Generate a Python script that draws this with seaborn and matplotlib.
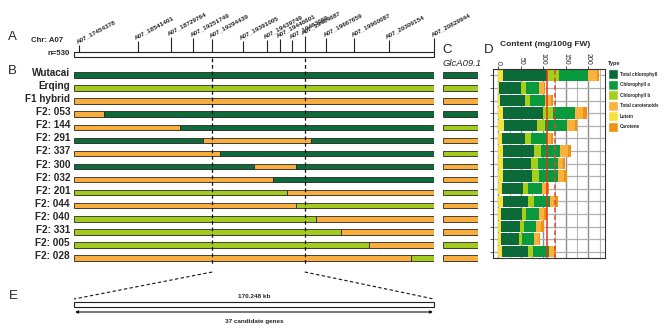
import matplotlib
matplotlib.use("Agg")
import matplotlib.pyplot as plt
import matplotlib.patheffects as pe
from matplotlib.patches import Rectangle
from matplotlib.transforms import blended_transform_factory
import numpy as np
import pandas as pd
import seaborn as sns

sns.set_theme(style="white")
plt.rcParams['font.family'] = ['Liberation Sans', 'DejaVu Sans']

# ---------------- data ----------------
markers = ["A07_17454378", "A07_18541401", "A07_18729764", "A07_19251749",
           "A07_19294439", "A07_19391005", "A07_19439749", "A07_19446601",
           "A07_19463069", "A07_19464687", "A07_19667659", "A07_19900087",
           "A07_20309154", "A07_20829944"]
# relative position of each marker along the drawn chromosome (0..1)
marker_pos = [0.014, 0.177, 0.269, 0.331, 0.384, 0.469, 0.536, 0.572,
              0.606, 0.641, 0.700, 0.778, 0.874, 1.0]
interval_idx = (4, 9)
n_candidate = 37

lines = ["Wutacai", "Erqing", "F1 hybrid", "F2: 053", "F2: 144", "F2: 291",
         "F2: 337", "F2: 300", "F2: 032", "F2: 201", "F2: 044", "F2: 040",
         "F2: 331", "F2: 005", "F2: 028"]
# genotype blocks along chromosome: W = Wutacai, E = Erqing, H = heterozygous
seg_genos = ["W", "E", "H", "HW", "HW", "WHW", "HW", "WHW", "HW",
             "EH", "HE", "EH", "EH", "EH", "HE"]
seg_breaks = [[], [], [], [0.083], [0.294], [0.358, 0.658], [0.406],
              [0.500, 0.617], [0.553], [0.592], [0.617], [0.672], [0.742],
              [0.819], [0.936]]
glca_geno = ["W", "E", "H", "W", "E", "H", "E", "H", "H", "E", "H", "H",
             "H", "E", "H"]

# Panel D content (mg/100g FW), one value per line
lutein = [9.4, 1.5, 3.5, 9.4, 12.5, 7, 9.4, 9.4, 9.4, 7, 9.4, 5, 5, 5, 7]
total_chl = [98, 49, 55.7, 89, 74, 52, 70, 63, 66, 47, 55.7, 47, 43, 41, 58.6]
chl_b = [27.4, 11, 11, 22, 17, 13, 15.6, 15, 15, 11, 14, 9.6, 9, 6.7, 10.4]
chl_a = [64, 29, 33.4, 50, 50, 35, 42, 44, 41.5, 32, 35.6, 29, 27, 27, 36.3]
total_car = [21.4, 10, 13.4, 17, 17, 10, 18.6, 13, 15, 10.4, 11, 11, 11, 11, 12]
carotene = [4.5, 3.8, 3.7, 9, 5, 4, 6, 4.5, 6, 4.5, 6, 6, 6.5, 2.2, 3.7]
ref_solid = 107
ref_dashed = 125
d_ticks = [0, 50, 100, 150, 200]

type_names = ["Total chlorophyll", "Chlorophyll a", "Chlorophyll b",
              "Total carotenoids", "Lutein", "Carotene"]

# ---------------- styles ----------------
geno_colors = {"W": "#0d6b3a", "E": "#a2cb1d", "H": "#f9ad3d"}
type_colors = {"Total chlorophyll": "#0b6a38", "Chlorophyll a": "#0a9a3e",
               "Chlorophyll b": "#a8cf18", "Total carotenoids": "#fbb13c",
               "Lutein": "#f4e23a", "Carotene": "#f29111"}
tick_len = [7, 11, 15, 14, 13, 10.5, 12, 13, 12, 15.5, 14, 14, 12, 14]

W, H = 667, 336
fig = plt.figure(figsize=(W / 100, H / 100), dpi=100)


def px_axes(x0, y0, x1, y1):
    return fig.add_axes([x0 / W, 1 - y1 / H, (x1 - x0) / W, (y1 - y0) / H])


shadow = [pe.SimplePatchShadow(offset=(0.7, -0.7), shadow_rgbFace="#8a8a8a", alpha=0.7),
          pe.Normal()]

# ---------------- panel A ----------------
axA = px_axes(74, 0, 434, 60)
axA.set_xlim(0, 1)
axA.set_ylim(60, 0)
axA.axis("off")
axA.add_patch(Rectangle((0, 51.5), 1, 5.8, facecolor="white", edgecolor="#222",
                        lw=0.8, clip_on=False))
tops = [51.5 - t for t in tick_len]
axA.vlines(marker_pos, tops, 51.5, color="#222", lw=0.8, clip_on=False)
for p, t, name in zip(marker_pos, tops, markers):
    axA.text(p - 0.004, t - 0.5, name, rotation=28, rotation_mode="anchor",
             ha="left", va="bottom", fontsize=4.6, fontweight="bold",
             clip_on=False)

# ---------------- panel B ----------------
axB = px_axes(74, 68.5, 434, 264.5)
axB.set_xlim(0, 1)
axB.set_ylim(len(lines) - 0.5, -0.5)
axB.axis("off")
for i, (name, genos, brks) in enumerate(zip(lines, seg_genos, seg_breaks)):
    starts = [0] + brks
    ends = brks + [1]
    for s, e, g in zip(starts, ends, genos):
        b = axB.barh(i, e - s, left=s, height=0.42, color=geno_colors[g],
                     edgecolor="#2a2a2a", lw=0.6)
        for r in b:
            r.set_path_effects(shadow)
    axB.text(-0.011, i - 0.15, name, ha="right", va="center", fontsize=7.2,
             fontweight="bold", clip_on=False)

# ---------------- panel C ----------------
axC = px_axes(443, 68.5, 478, 264.5)
dfC = pd.DataFrame({"line": lines, "geno": glca_geno, "v": [1] * len(lines)})
sns.barplot(data=dfC, x="v", y="line", hue="geno", palette=geno_colors,
            orient="h", width=0.42, dodge=False, saturation=1, errorbar=None,
            edgecolor="#2a2a2a", linewidth=0.6, legend=False, ax=axC)
for r in axC.patches:
    r.set_path_effects(shadow)
axC.set_xlim(0, 1)
axC.set_ylim(len(lines) - 0.5, -0.5)
axC.axis("off")

# ---------------- panel D ----------------
axD = px_axes(493, 69, 605, 258)
stack = [("Lutein", lutein), ("Total chlorophyll", total_chl),
         ("Chlorophyll b", chl_b), ("Chlorophyll a", chl_a),
         ("Total carotenoids", total_car), ("Carotene", carotene)]
left = np.zeros(len(lines))
ypos = np.arange(len(lines))
for tname, vals in stack:
    v = np.array(vals, dtype=float)
    axD.barh(ypos, v, left=left, height=0.9, color=type_colors[tname],
             edgecolor="none", zorder=2)
    left += v
axD.axvline(ref_solid, color="#e5321e", lw=1.1, zorder=3)
axD.axvline(ref_dashed, color="#d8493b", lw=1.1, ls=(0, (3, 2)), zorder=3)
axD.set_xlim(-12, 237)
axD.set_ylim(len(lines) - 0.5, -0.5)
axD.set_xticks(d_ticks)
axD.set_xticks([t + 25 for t in d_ticks], minor=True)
axD.set_yticks(ypos)
axD.set_yticklabels([])
axD.grid(True, which="major", axis="x", color="#8e8e8e", lw=1.0, zorder=0)
axD.grid(True, which="minor", axis="x", color="#b8b8b8", lw=0.8, zorder=0)
axD.grid(True, which="major", axis="y", color="#b0b0b0", lw=0.9, zorder=0)
axD.set_axisbelow(True)
axD.xaxis.tick_top()
axD.set_xticklabels([str(t) for t in d_ticks], rotation=-90, fontsize=5,
                    va="bottom", ha="center")
axD.tick_params(axis="x", which="major", length=2, width=0.6, pad=1,
                top=True, bottom=False, colors="#222")
axD.tick_params(axis="x", which="minor", length=0)
axD.tick_params(axis="y", length=2, width=0.6, left=True, colors="#444")
for s in axD.spines.values():
    s.set_color("#333")
    s.set_linewidth(0.8)
axD.set_facecolor("white")

# legend of panel D
axL = px_axes(608, 69, 618, 132)
for i, tname in enumerate(type_names):
    axL.barh(i, 1, height=0.94, color=type_colors[tname])
    axL.text(1.2, i, tname, ha="left", va="center", fontsize=3.3,
             fontweight="bold", clip_on=False)
axL.set_xlim(0, 1)
axL.set_ylim(len(type_names) - 0.5, -0.5)
axL.axis("off")

# ---------------- overlay: labels, guide lines, panel E ----------------
ax0 = px_axes(0, 0, W, H)
ax0.set_xlim(0, W)
ax0.set_ylim(H, 0)
ax0.axis("off")
ax0.patch.set_visible(False)
ax0.set_zorder(10)

for txt, x, y in [("A", 12, 37), ("B", 12, 71), ("C", 447, 50), ("D", 489, 50), ("E", 13, 296)]:
    ax0.text(x, y, txt, fontsize=9.5, ha="center", va="center")
ax0.text(31, 40, "Chr: A07", fontsize=5.6, fontweight="bold", ha="left", va="center")
ax0.text(70, 53.5, "n=530", fontsize=5.6, fontweight="bold", ha="right", va="center")
ax0.text(443, 63, "GlcA09.1", fontsize=6.8, style="italic", ha="left", va="center")
ax0.text(545, 45, "Content (mg/100g FW)", fontsize=6.0, fontweight="bold",
         ha="center", va="center")
ax0.text(608, 63, "Type", fontsize=4, fontweight="bold", ha="left", va="center")

tr = blended_transform_factory(axB.transData, ax0.transData)
dash = (0, (3, 2.2))
i0, i1 = interval_idx
for idx, end in [(i0, 0), (i1, 1)]:
    p = marker_pos[idx]
    ax0.plot([p, p], [57.5, 266], transform=tr, color="#111", lw=0.9, ls=dash)
    ax0.plot([p, end], [272, 299], transform=tr, color="#111", lw=0.8, ls=dash)

span_kb = (int(markers[i1][4:]) - int(markers[i0][4:])) / 1000
boxE = Rectangle((0, 302), 1, 5, transform=tr, facecolor="white",
                 edgecolor="#222", lw=0.8)
boxE.set_path_effects(shadow)
ax0.add_patch(boxE)
ax0.text(0.5, 297, f"{span_kb:.3f} kb", transform=tr, fontsize=4.6,
         fontweight="bold", ha="center", va="center")
ax0.annotate("", xy=(0.003, 312), xytext=(0.997, 312), xycoords=tr, textcoords=tr,
             arrowprops=dict(arrowstyle="<|-|>", color="#111", lw=0.8,
                             mutation_scale=4, shrinkA=0, shrinkB=0))
ax0.text(0.5, 321, f"{n_candidate} candidate genes", transform=tr, fontsize=4.6,
         fontweight="bold", ha="center", va="center")

fig.savefig("out.png", dpi=100)
